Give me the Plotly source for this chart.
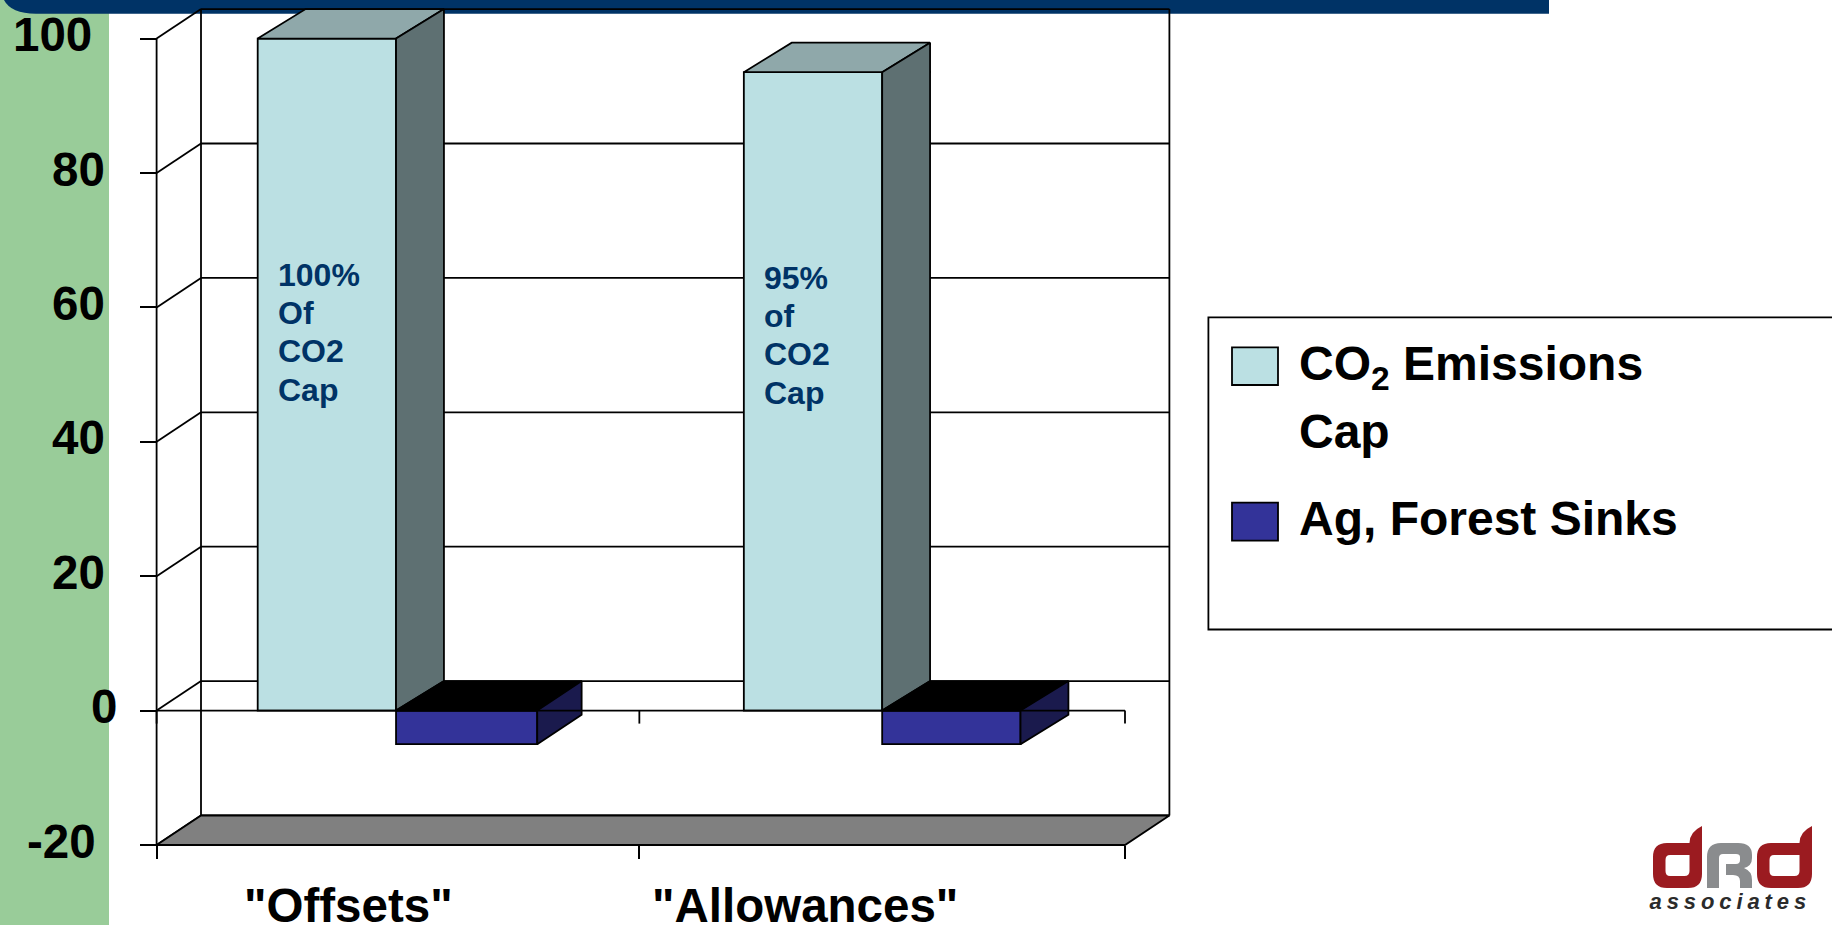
import plotly.graph_objects as go

# Chart values
categories = ['"Offsets"', '"Allowances"']
co2_cap = [100, 95]
forest_sinks = [-5, -5]
y_ticks = [-20, 0, 20, 40, 60, 80, 100]
y_tick_labels = ["-20", "0", "20", "40", "60", "80", "100"]
bar_notes = [["100%", "Of", "CO2", "Cap"], ["95%", "of", "CO2", "Cap"]]
legend_names = ["CO<sub>2</sub> Emissions", "Cap", "Ag, Forest Sinks"]

# Page and scale geometry, in page pixels
W, H = 1832, 925
X0_PX, CAT_PX = 156.6, 484.2      # left end of the category axis, width of one category
Y0_PX, UNIT_PX = 710.6, 6.72      # zero level, pixels per value unit
WALL_DX = 44.4 / CAT_PX           # 3-D depth offset of the box, in axis units
DEPTH_Y = 29.5 / UNIT_PX
CAP_DX = 47.9 / CAT_PX            # depth offset of the taller bars
SINK_DX = [44.4 / CAT_PX, 47.9 / CAT_PX]
BAR_W = 0.2857
SINK_W = [0.2916, 0.2857]
CENTRES = [0.4945, 1.4985]
CAT_TICKS = [0, 0.997, 2]
N_CAT = len(categories)
FONT = "Liberation Sans"

CYAN, CYAN_SIDE, CYAN_TOP = "#BBE0E3", "#5E7072", "#8FA8AA"
BLUE, BLUE_SIDE, BLUE_TOP = "#333399", "#1A1A4D", "#000000"
NAVY, GREEN = "#003366", "#99CC99"
LINE_W = 1.8


def px(x):
    return x / W


def py(y):
    return 1 - y / H


def page_path(cmds):
    """Build a paper-referenced SVG path from (command, x, y, ...) tuples in page pixels."""
    out = []
    for c in cmds:
        vals = c[1:]
        coords = [f"{px(vals[i])},{py(vals[i + 1])}" for i in range(0, len(vals), 2)]
        out.append(c[0] + " " + " ".join(coords))
    return " ".join(out)


fig = go.Figure()
shapes = []
annotations = []

# Page furniture behind the chart
shapes.append(dict(type="rect", xref="paper", yref="paper", x0=0, x1=px(109), y0=0, y1=1,
                   fillcolor=GREEN, line_width=0, layer="below"))
shapes.append(dict(type="path", xref="paper", yref="paper", layer="below", fillcolor=NAVY, line_width=0,
                   path=page_path([("M", 4, 0), ("Q", 11, 13.7, 36, 13.7), ("L", 1549, 13.7),
                                   ("L", 1549, 0)]) + " Z"))

# Back wall, side wall and gridlines of the 3-D box
wall = dict(type="line", xref="x", yref="y", layer="below", line=dict(color="black", width=LINE_W))
lo, hi = y_ticks[0], y_ticks[-1]
for v in y_ticks:
    shapes.append({**wall, "x0": 0, "y0": v, "x1": WALL_DX, "y1": v + DEPTH_Y})
    shapes.append({**wall, "x0": WALL_DX, "y0": v + DEPTH_Y, "x1": N_CAT + WALL_DX, "y1": v + DEPTH_Y})
shapes.append({**wall, "x0": 0, "y0": lo, "x1": 0, "y1": hi})
shapes.append({**wall, "x0": WALL_DX, "y0": lo + DEPTH_Y, "x1": WALL_DX, "y1": hi + DEPTH_Y})
shapes.append({**wall, "x0": N_CAT + WALL_DX, "y0": lo + DEPTH_Y, "x1": N_CAT + WALL_DX, "y1": hi + DEPTH_Y})

# Floor of the box
floor_pts = [(0, lo), (N_CAT, lo), (N_CAT + WALL_DX, lo + DEPTH_Y), (WALL_DX, lo + DEPTH_Y)]
fig.add_trace(go.Scatter(x=[p[0] for p in floor_pts] + [0], y=[p[1] for p in floor_pts] + [lo],
                         mode="lines", fill="toself", fillcolor="#808080",
                         line=dict(color="black", width=LINE_W), cliponaxis=False,
                         showlegend=False, hoverinfo="skip"))

# Front faces
fig.add_trace(go.Bar(name="CO2 Emissions Cap", x=CENTRES, y=co2_cap, width=BAR_W, offset=-BAR_W,
                     marker=dict(color=CYAN, line=dict(color="black", width=LINE_W))))
fig.add_trace(go.Bar(name="Ag, Forest Sinks", x=CENTRES, y=forest_sinks, width=SINK_W, offset=0,
                     marker=dict(color=BLUE, line=dict(color="black", width=LINE_W))))


def add_face(points, colour):
    xs = [p[0] for p in points] + [points[0][0]]
    ys = [p[1] for p in points] + [points[0][1]]
    fig.add_trace(go.Scatter(x=xs, y=ys, mode="lines", fill="toself", fillcolor=colour,
                             line=dict(color="black", width=LINE_W), cliponaxis=False,
                             showlegend=False, hoverinfo="skip"))


# Depth faces, worked out from each bar's value
for c, cap, sink, sw, sdx in zip(CENTRES, co2_cap, forest_sinks, SINK_W, SINK_DX):
    l1, r1 = c - BAR_W, c
    add_face([(l1, cap), (l1 + CAP_DX, cap + DEPTH_Y), (r1 + CAP_DX, cap + DEPTH_Y), (r1, cap)], CYAN_TOP)
    add_face([(r1, 0), (r1 + CAP_DX, DEPTH_Y), (r1 + CAP_DX, cap + DEPTH_Y), (r1, cap)], CYAN_SIDE)
    l2, r2 = c, c + sw
    add_face([(l2, 0), (l2 + CAP_DX, DEPTH_Y), (r2 + sdx, DEPTH_Y), (r2, 0)], BLUE_TOP)
    add_face([(r2, 0), (r2 + sdx, DEPTH_Y), (r2 + sdx, sink + DEPTH_Y), (r2, sink)], BLUE_SIDE)

# Category axis line at the floor, and the second one with its ticks at zero
tick_drop = 13 / UNIT_PX
shapes.append(dict(type="line", xref="x", yref="y", layer="above", x0=0, x1=N_CAT, y0=lo, y1=lo,
                   line=dict(color="black", width=LINE_W)))
shapes.append(dict(type="line", xref="x", yref="y", layer="above", x0=0, x1=N_CAT, y0=0, y1=0,
                   line=dict(color="black", width=LINE_W)))
for t in CAT_TICKS:
    shapes.append(dict(type="line", xref="x", yref="y", layer="above", x0=t, x1=t, y0=0, y1=-tick_drop,
                       line=dict(color="black", width=LINE_W)))


def text(x, y, s, size, colour="black", anchor="left", xref="paper", yref="paper", yshift=0, **kw):
    annotations.append(dict(x=x, y=y, xref=xref, yref=yref, text=s, showarrow=False, xanchor=anchor,
                            yanchor="middle", yshift=yshift, align=anchor,
                            font=dict(family=FONT, size=size, color=colour, weight="bold", **kw)))


# Value labels; their right edges step in and out along the axis
label_right_px = {"-20": 98, "0": 119, "20": 107, "40": 107, "60": 107, "80": 107, "100": 94}
for v, lab in zip(y_ticks, y_tick_labels):
    text(px(label_right_px[lab]), v, lab, 47.5, anchor="right", yref="y", yshift=4)

# Category names
for centre_px, name in zip([348, 805], categories):
    text(px(centre_px), py(905), name, 47.5, anchor="center")

# Notes written on the front faces
note_top_px = [275, 278]
note_step_px = 38.2
for c, lines, top in zip(CENTRES, bar_notes, note_top_px):
    for j, line in enumerate(lines):
        text(c - BAR_W + 18.2 / CAT_PX, py(top + j * note_step_px), line, 32, colour=NAVY, xref="x")

# Legend box, open on its right side where it runs off the page
shapes.append(dict(type="path", xref="paper", yref="paper", layer="above", line=dict(color="black", width=LINE_W),
                   path=page_path([("M", W + 5, 317.3), ("L", 1208.4, 317.3), ("L", 1208.4, 629.5),
                                   ("L", W + 5, 629.5)])))
for colour, top, bottom in [(CYAN, 347.3, 385), (BLUE, 502.7, 540.7)]:
    shapes.append(dict(type="rect", xref="paper", yref="paper", layer="above", x0=px(1232), x1=px(1278),
                       y0=py(bottom), y1=py(top), fillcolor=colour, line=dict(color="black", width=LINE_W)))
for name, y in zip(legend_names, [367, 431.7, 518.3]):
    text(px(1296.5), py(y), name, 48)


# Company logo
def d_glyph(x0, w):
    top, mid, bot = 826, 843, 888
    s, r = 12.5, 14
    outer = page_path([("M", x0 + r, mid), ("L", x0 + w - s, mid), ("Q", x0 + w - s, top + 6, x0 + w, top),
                       ("L", x0 + w, bot - r), ("Q", x0 + w, bot, x0 + w - r, bot), ("L", x0 + r, bot),
                       ("Q", x0, bot, x0, bot - r), ("L", x0, mid + r), ("Q", x0, mid, x0 + r, mid)]) + " Z"
    inner = page_path([("M", x0 + 17, mid + 12), ("L", x0 + w - s, mid + 12), ("L", x0 + w - s, bot - 17),
                       ("Q", x0 + w - s, bot - 12, x0 + w - s - 5, bot - 12),
                       ("L", x0 + 17, bot - 12), ("Q", x0 + s, bot - 12, x0 + s, bot - 17),
                       ("L", x0 + s, mid + 17), ("Q", x0 + s, mid + 12, x0 + 17, mid + 12)]) + " Z"
    return outer + " " + inner


RED, GRAY = "#9B1B20", "#8A8C8E"
for x0, w in [(1653, 49), (1757, 55)]:
    shapes.append(dict(type="path", xref="paper", yref="paper", layer="above", path=d_glyph(x0, w),
                       fillcolor=RED, line_width=0, fillrule="evenodd"))
r_path = page_path([("M", 1707, 888), ("L", 1707, 857), ("Q", 1707, 843, 1721, 843), ("L", 1738, 843),
                    ("Q", 1752, 843, 1752, 855), ("L", 1752, 858), ("Q", 1752, 866, 1744, 868),
                    ("Q", 1752, 871, 1752, 880), ("L", 1752, 888), ("L", 1740, 888), ("L", 1740, 881),
                    ("Q", 1740, 875, 1733, 875), ("L", 1726, 875), ("L", 1726, 864), ("L", 1736, 864),
                    ("Q", 1740, 864, 1740, 860), ("L", 1740, 857), ("Q", 1740, 854, 1736, 854),
                    ("L", 1723, 854), ("Q", 1719, 854, 1719, 858), ("L", 1719, 888)]) + " Z"
shapes.append(dict(type="path", xref="paper", yref="paper", layer="above", path=r_path,
                   fillcolor=GRAY, line_width=0))
text(px(1730), py(901), "associates", 22, colour="#2B2B2B", anchor="center", style="italic")

fig.update_layout(
    width=W, height=H, margin=dict(l=0, r=0, t=0, b=0), autosize=False,
    paper_bgcolor="white", plot_bgcolor="rgba(0,0,0,0)",
    barmode="overlay", showlegend=False,
    shapes=shapes, annotations=annotations,
    xaxis=dict(domain=[0, 1], range=[-X0_PX / CAT_PX, (W - X0_PX) / CAT_PX], anchor="free",
               position=py(Y0_PX - lo * UNIT_PX), showgrid=False, zeroline=False, showline=False,
               tickmode="array", tickvals=CAT_TICKS, ticks="outside", ticklen=13,
               tickwidth=LINE_W, tickcolor="black", showticklabels=False, fixedrange=True),
    yaxis=dict(domain=[0, 1], range=[(Y0_PX - H) / UNIT_PX, Y0_PX / UNIT_PX], anchor="free",
               position=px(X0_PX), showgrid=False, zeroline=False, showline=False,
               tickmode="array", tickvals=y_ticks, ticks="outside", ticklen=16.5,
               tickwidth=LINE_W, tickcolor="black", showticklabels=False, fixedrange=True),
)

# Tracking for the logo's strapline
spacing_js = """
document.querySelectorAll('.annotation-text').forEach(function (t) {
  if (t.textContent === 'associates') { t.style.letterSpacing = '4.9px'; }
});
"""
fig.write_html("out.html", post_script=spacing_js, config=dict(displayModeBar=False))
